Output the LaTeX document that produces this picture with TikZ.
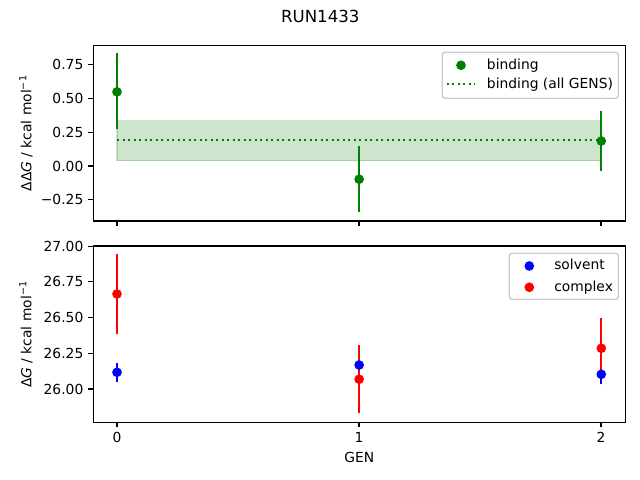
\documentclass[tikz,border=0pt]{standalone}
\usepackage{fontspec}
\setmainfont{DejaVu Sans}
\definecolor{mgreen}{RGB}{0,128,0}
\definecolor{mblue}{RGB}{0,0,255}
\definecolor{mred}{RGB}{255,0,0}
\begin{document}
\begin{tikzpicture}[x=0.01in,y=-0.01in,
  spine/.style={line width=0.8pt, black},
  tickmark/.style={line width=0.8pt, black},
  lbl/.style={font=\fontsize{10}{12}\selectfont, inner sep=0pt},
  ebar/.style={line width=1.5pt},
  dot/.style={circle, inner sep=0pt, minimum size=7pt},
  legendbox/.style={draw=black!20, line width=1pt, fill=white, fill opacity=0.8, rounded corners=2pt},
  dotline/.style={line width=1.5pt, dash pattern=on 1.5pt off 2.475pt},
 ]
\useasboundingbox (0,0) rectangle (640,480);
\fill[white] (0,0) rectangle (640,480);

% title
\node[font=\fontsize{12}{14}\selectfont, inner sep=0pt] (title) at (320.3,16.5) {RUN1433};

% ================= TOP AXES =================
\begin{scope}[shift={(117,166)}, x=2.42in, y=1.352in]
  % band
  \fill[mgreen, fill opacity=0.2] (0,0.039) rectangle (2,0.335);
  \draw[mgreen, draw opacity=0.2, line width=1pt] (0,0.039) rectangle (2,0.335);
  % error bars
  \draw[ebar, mgreen] (0,0.27) -- (0,0.834);
  \draw[ebar, mgreen] (1,-0.342) -- (1,0.148);
  \draw[ebar, mgreen] (2,-0.035) -- (2,0.407);
  % mean line
  \draw[dotline, mgreen] (0,0.195) -- (2,0.195);
  % dots
  \node[dot, fill=mgreen] (b0) at (0,0.548) {};
  \node[dot, fill=mgreen] (b1) at (1,-0.098) {};
  \node[dot, fill=mgreen] (b2) at (2,0.185) {};
\end{scope}
% spines
\draw[spine] (93.3,45.3) rectangle (625.3,221);
% y ticks top
\foreach \v/\t [count=\i] in {0.75/0.75, 0.50/0.50, 0.25/0.25, 0.00/0.00, -0.25/−0.25}{
  \pgfmathsetmacro{\yy}{166-135.2*\v}
  \draw[tickmark] (93.3,\yy) -- (88.44,\yy);
  \node[lbl, anchor=east] (ty\i) at (83.6,\yy) {\t};
}
% x ticks top
\foreach \g in {0,1,2}{
  \pgfmathsetmacro{\xx}{117+242*\g}
  \draw[tickmark] (\xx,221) -- (\xx,225.86);
}
% y label top
\node[lbl, rotate=90] (ylab1) at (26,133.2) {ΔΔ\textit{G} / kcal mol\textsuperscript{−1}};
% legend top
\draw[legendbox] (442.3,52.3) rectangle (618.3,98.3);
\node[dot, fill=mgreen] (lgb) at (461,65.3) {};
\coordinate (lgl1) at (446.7,84.3);
\coordinate (lgl2) at (475,84.3);
\draw[dotline, mgreen] (lgl1) -- (lgl2);
\node[lbl, anchor=base west] (lt1) at (486.7,69.5) {binding};
\node[lbl, anchor=base west] (lt2) at (486.7,89) {binding (all GENS)};

% ================= BOTTOM AXES =================
\begin{scope}[shift={(117,389)}, x=2.42in, y=1.428in]
  % error bars solvent
  \draw[ebar, mblue] (0,0.05) -- (0,0.18);
  \draw[ebar, mblue] (1,0.10) -- (1,0.23);
  \draw[ebar, mblue] (2,0.033) -- (2,0.17);
  % error bars complex
  \draw[ebar, mred] (0,0.387) -- (0,0.945);
  \draw[ebar, mred] (1,-0.17) -- (1,0.308);
  \draw[ebar, mred] (2,0.08) -- (2,0.495);
  % dots
  \node[dot, fill=mblue] (s0) at (0,0.117) {};
  \node[dot, fill=mblue] (s1) at (1,0.168) {};
  \node[dot, fill=mblue] (s2) at (2,0.103) {};
  \node[dot, fill=mred] (c0) at (0,0.665) {};
  \node[dot, fill=mred] (c1) at (1,0.068) {};
  \node[dot, fill=mred] (c2) at (2,0.285) {};
\end{scope}
\draw[spine] (93.3,246) rectangle (625.3,422.3);
% y ticks bottom
\foreach \v/\t [count=\i] in {1.00/27.00, 0.75/26.75, 0.50/26.50, 0.25/26.25, 0.00/26.00}{
  \pgfmathsetmacro{\yy}{389-142.8*\v}
  \draw[tickmark] (93.3,\yy) -- (88.44,\yy);
  \node[lbl, anchor=east] (by\i) at (83.6,\yy) {\t};
}
% x ticks bottom
\foreach \g in {0,1,2}{
  \pgfmathsetmacro{\xx}{117+242*\g}
  \draw[tickmark] (\xx,422.3) -- (\xx,427.16);
  \node[lbl] (bx\g) at (\xx,437) {\g};
}
\node[lbl] (xlab) at (359.3,457.5) {GEN};
\node[lbl, rotate=90] (ylab2) at (26,334.4) {Δ\textit{G} / kcal mol\textsuperscript{−1}};
% legend bottom
\draw[legendbox] (509.3,253.3) rectangle (618.3,299.3);
\node[dot, fill=mblue] (lgs) at (529.3,266) {};
\node[dot, fill=mred] (lgc) at (529.3,287.3) {};
\node[lbl, anchor=base west] (lt3) at (554,270) {solvent};
\node[lbl, anchor=base west] (lt4) at (554,291.3) {complex};
\end{tikzpicture}
\end{document}
